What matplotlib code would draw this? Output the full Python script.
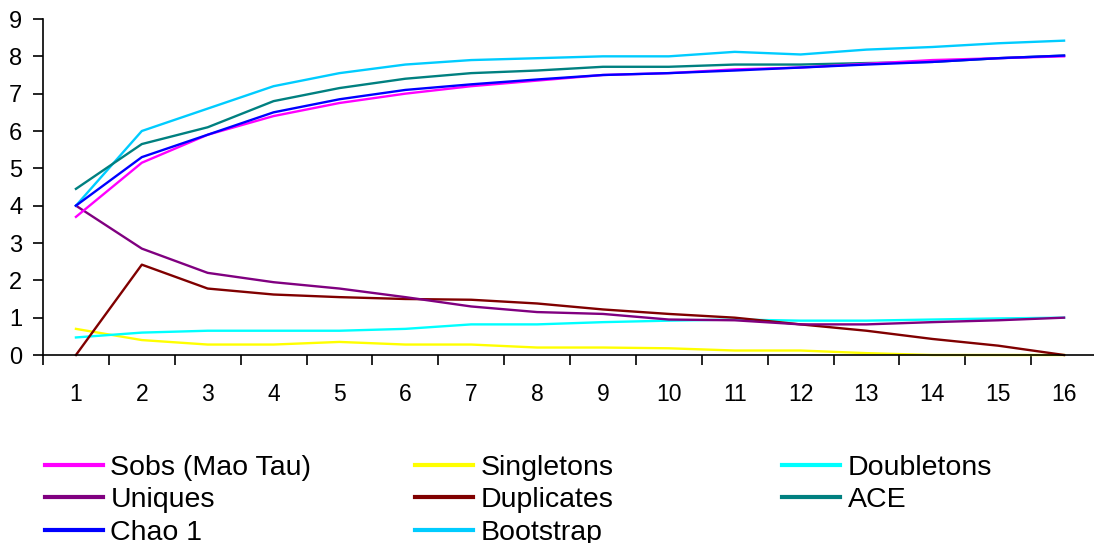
import numpy as np
import matplotlib.pyplot as plt
from matplotlib.ticker import FixedLocator

plt.rcParams['font.family'] = ['Liberation Sans', 'DejaVu Sans']

samples = list(range(1, 17))

sobs = [3.7, 5.15, 5.9, 6.4, 6.75, 7.0, 7.2, 7.35, 7.5, 7.55, 7.65, 7.7, 7.8, 7.9, 7.95, 8.0]
singletons = [0.7, 0.4, 0.28, 0.28, 0.35, 0.28, 0.28, 0.2, 0.2, 0.18, 0.12, 0.12, 0.05, 0.0, 0.0, 0.0]
doubletons = [0.47, 0.6, 0.65, 0.65, 0.65, 0.7, 0.82, 0.82, 0.88, 0.92, 0.95, 0.92, 0.92, 0.95, 0.98, 1.0]
uniques = [4.0, 2.85, 2.2, 1.95, 1.78, 1.55, 1.3, 1.15, 1.1, 0.95, 0.93, 0.82, 0.82, 0.88, 0.93, 1.0]
duplicates = [0.0, 2.42, 1.78, 1.62, 1.55, 1.5, 1.48, 1.38, 1.22, 1.1, 1.0, 0.82, 0.65, 0.43, 0.25, 0.0]
ace = [4.45, 5.65, 6.1, 6.8, 7.15, 7.4, 7.55, 7.62, 7.72, 7.72, 7.78, 7.78, 7.82, 7.85, 7.95, 8.02]
chao1 = [4.0, 5.3, 5.9, 6.5, 6.85, 7.1, 7.25, 7.38, 7.5, 7.55, 7.62, 7.7, 7.78, 7.85, 7.95, 8.02]
bootstrap = [4.0, 6.0, 6.6, 7.2, 7.55, 7.78, 7.9, 7.95, 8.0, 8.0, 8.12, 8.05, 8.18, 8.25, 8.35, 8.42]

series = {
    'Sobs (Mao Tau)': (sobs, '#ff00ff'),
    'Singletons': (singletons, '#ffff00'),
    'Doubletons': (doubletons, '#00ffff'),
    'Uniques': (uniques, '#800080'),
    'Duplicates': (duplicates, '#800000'),
    'ACE': (ace, '#008080'),
    'Chao 1': (chao1, '#0000ff'),
    'Bootstrap': (bootstrap, '#00ccff'),
}
# legend columns as in the original (left to right)
legend_cols = [['Sobs (Mao Tau)', 'Uniques', 'Chao 1'],
               ['Singletons', 'Duplicates', 'Bootstrap'],
               ['Doubletons', 'ACE']]
draw_order = ['Singletons', 'Doubletons', 'Duplicates', 'Uniques',
              'Bootstrap', 'ACE', 'Sobs (Mao Tau)', 'Chao 1']

fig = plt.figure(figsize=(10.94, 5.43), dpi=100)
ax = fig.add_axes([43/1094, 1-355/543, 1054/1094, 336/543])

handles = {}
for i, name in enumerate(draw_order):
    vals, col = series[name]
    ln, = ax.plot(samples, vals, color=col, lw=1.7, label=name, zorder=2 + i*0.1, clip_on=False)
    handles[name] = ln

ax.set_xlim(0.5, 16.5)
ax.set_ylim(0, 9)
ax.set_yticks(range(0, 10))
ax.set_xticks(samples)
ax.xaxis.set_minor_locator(FixedLocator(np.arange(0.5, 16.0, 1)))
ax.tick_params(axis='x', which='major', length=0, pad=20, labelsize=16.5)
ax.tick_params(axis='x', which='minor', length=7, width=1.2, direction='out')
ax.tick_params(axis='y', length=7, width=1.2, pad=8, labelsize=17)
for s in ['top', 'right']:
    ax.spines[s].set_visible(False)
for s in ['left', 'bottom']:
    ax.spines[s].set_linewidth(1.2)

col_x = [45, 415, 782]
for x0, names in zip(col_x, legend_cols):
    leg = fig.legend([handles[n] for n in names], names, loc='upper left',
                     bbox_to_anchor=(x0/1094, 1-455/543), frameon=False,
                     fontsize=20.5, handlelength=2.05, handletextpad=0.25,
                     labelspacing=0.22, borderaxespad=0, borderpad=0)
    for l in leg.get_lines():
        l.set_linewidth(3)

fig.savefig('out.png', dpi=100)
